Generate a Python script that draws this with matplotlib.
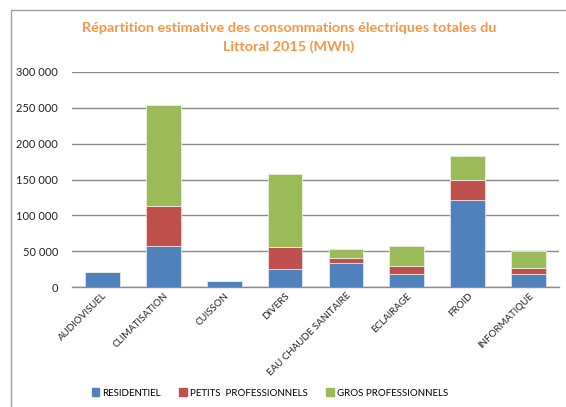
import matplotlib
matplotlib.use('Agg')
import matplotlib.pyplot as plt
import matplotlib.patches as mpatches
import numpy as np

categories = ['AUDIOVISUEL', 'CLIMATISATION', 'CUISSON', 'DIVERS',
              'EAU CHAUDE SANITAIRE', 'ECLAIRAGE', 'FROID', 'INFORMATIQUE']
residentiel = [21000, 57500, 8300, 24500, 33500, 17700, 121000, 17700]
petits_pro  = [0, 55500, 0, 31500, 6500, 11500, 29000, 8800]
gros_pro    = [0, 141000, 0, 102000, 13500, 28500, 33000, 24300]
series_names = ['RESIDENTIEL', 'PETITS  PROFESSIONNELS', 'GROS PROFESSIONNELS']
yticks = [0, 50000, 100000, 150000, 200000, 250000, 300000]

BLUE, RED, GREEN = '#4F81BD', '#C0504D', '#9BBB59'
FONT = ['Lato', 'DejaVu Sans']

fig = plt.figure(figsize=(5.66, 4.07), dpi=100, facecolor='white')
W, H = 566, 407

# chart frame
fig.add_artist(mpatches.Rectangle((11 / W, -0.05), 1.2, (H - 10) / H + 0.05,
                                  transform=fig.transFigure, fill=False,
                                  edgecolor='#A0A0A0', linewidth=1.0))

ax = fig.add_axes([72 / W, 1 - 287 / H, (559 - 72) / W, (287 - 72) / H])
x = np.arange(len(categories))
bw = 0.57
bottom2 = np.array(residentiel)
bottom3 = bottom2 + np.array(petits_pro)
ax.bar(x, residentiel, bw, color=BLUE, edgecolor='#DCE6F2', linewidth=0.6, zorder=3)
ax.bar(x, petits_pro, bw, bottom=bottom2, color=RED, edgecolor='#F2DCDB', linewidth=0.6, zorder=3)
ax.bar(x, gros_pro, bw, bottom=bottom3, color=GREEN, edgecolor='#EBF1DE', linewidth=0.6, zorder=3)

ax.set_xlim(-0.5, len(categories) - 0.5)
ax.set_ylim(0, 300000)
ax.set_yticks(yticks)
ax.set_yticklabels([f'{v:,}'.replace(',', ' ') for v in yticks],
                   family=FONT, fontsize=8, color='#222222')
ax.yaxis.grid(True, color='#8C8C8C', linewidth=1.0, zorder=0)
ax.set_axisbelow(True)
for s in ['left', 'right', 'top']:
    ax.spines[s].set_visible(False)
ax.spines['bottom'].set_color('#8C8C8C')
ax.spines['bottom'].set_linewidth(1.0)
ax.tick_params(axis='y', length=0, pad=10)
ax.tick_params(axis='x', length=0, pad=3)
ax.set_xticks(x)
ax.set_xticklabels(categories, rotation=45, ha='right', va='top',
                   rotation_mode='anchor', family=FONT, fontsize=7.0, color='#222222')

fig.text(289 / W, 1 - 28 / H, 'Répartition estimative des consommations électriques totales du',
         ha='center', va='center', family=FONT, fontsize=10.4, fontweight='bold', color='#F79646')
fig.text(289 / W, 1 - 47 / H, 'Littoral 2015 (MWh)',
         ha='center', va='center', family=FONT, fontsize=10.4, fontweight='bold', color='#F79646')

handles = [mpatches.Patch(color=c) for c in (BLUE, RED, GREEN)]
fig.legend(handles, series_names, loc='center', bbox_to_anchor=(270 / W, 1 - 393 / H),
           ncol=3, frameon=False, prop={'family': FONT, 'size': 7.0},
           handlelength=0.8, handleheight=0.8, handletextpad=0.3, columnspacing=1.9)

fig.savefig('out.png', dpi=100, facecolor='white')
